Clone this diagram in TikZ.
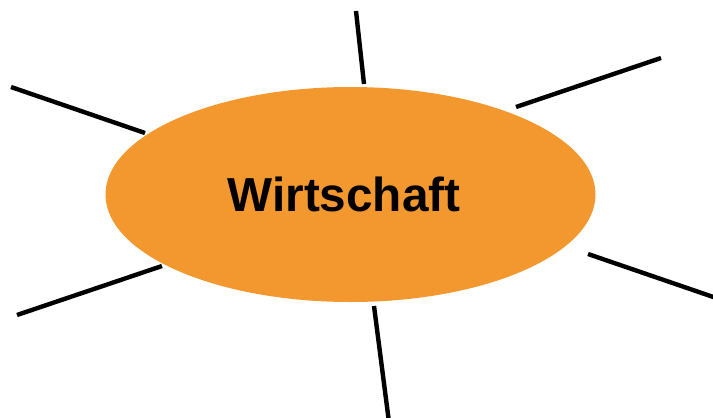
\documentclass[tikz,border=0pt]{standalone}
\usepackage{fontspec}
\setmainfont{Liberation Sans}
\usetikzlibrary{shapes.geometric}
\definecolor{wirtorange}{RGB}{243,152,46}
\begin{document}
\begin{tikzpicture}[x=1pt,y=-1pt,
    spoke/.style={line width=4.4pt}]
    \useasboundingbox (0,0) rectangle (713,418);
    \node[ellipse,fill=wirtorange,inner sep=0pt,minimum width=490pt,minimum height=215pt]
      (wirt) at (350.5,194.5) {};
    \node (wirtlabel) at (344,194.5) {\fontsize{47.7}{50}\selectfont\bfseries Wirtschaft};
    % spokes round the ellipse
    \coordinate (t1) at (364,84);   \coordinate (t2) at (356,11);
    \coordinate (ur1) at (516,107); \coordinate (ur2) at (661,58);
    \coordinate (ul1) at (145,133); \coordinate (ul2) at (11,87);
    \coordinate (ll1) at (162,266); \coordinate (ll2) at (17,315);
    \coordinate (lr1) at (588,254); \coordinate (lr2) at (725,301);
    \coordinate (b1) at (374,306);  \coordinate (b2) at (390,430);
    \foreach \s in {t,ur,ul,ll,lr,b}
      \draw[spoke] (\s1) -- (\s2);
  \end{tikzpicture}
\end{document}
